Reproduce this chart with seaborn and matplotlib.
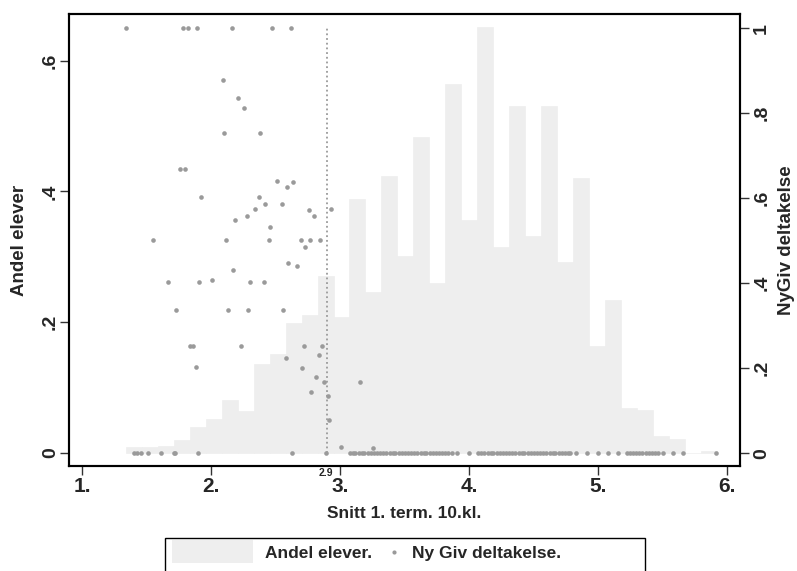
import numpy as np
import pandas as pd
import matplotlib
matplotlib.use("Agg")
import matplotlib.pyplot as plt
import seaborn as sns
from matplotlib.lines import Line2D
from matplotlib.patches import Rectangle, Patch
from matplotlib.legend_handler import HandlerLine2D, HandlerPatch

# ---------------- data ----------------
# histogram (density of students by average grade), 37 equal bins
hist_min = 1.341
hist_max = 5.92
hist_heights = [0.0087, 0.0096, 0.0112, 0.0198, 0.0397, 0.0524, 0.0804, 0.0646,
                0.1363, 0.1511, 0.1985, 0.2117, 0.2702, 0.2081, 0.388, 0.2458,
                0.4234, 0.3008, 0.484, 0.260, 0.565, 0.357, 0.652, 0.3145,
                0.530, 0.3324, 0.5313, 0.292, 0.4203, 0.1644, 0.2346, 0.0692,
                0.0656, 0.0260, 0.0209, 0.0, 0.0035]

# Ny GIV participation share by grade average
top_x = [1.341, 1.781, 1.822, 1.891, 2.160, 2.471, 2.620]          # share = 1
mid_x = [2.090, 2.209, 2.258, 2.101, 2.380, 1.760, 1.801, 2.509, 2.638, 2.589,
         1.920, 2.370, 2.419, 2.550, 2.341, 2.757, 2.928, 2.281, 2.798, 2.189,
         2.460, 1.550, 2.119, 2.450, 2.698, 2.767, 2.847, 2.731, 2.599, 2.669,
         2.171, 2.010, 1.669, 1.909, 2.300, 2.411, 1.731, 2.129, 2.289, 2.558,
         1.837, 1.858, 2.232, 2.718, 2.858, 2.837, 2.579, 1.881, 2.708, 2.816,
         2.878, 3.155, 2.778, 2.907, 2.915, 3.010, 3.258]
mid_y = [0.878, 0.837, 0.8125, 0.753, 0.753, 0.670, 0.670, 0.641, 0.639, 0.627,
         0.602, 0.603, 0.587, 0.587, 0.574, 0.572, 0.574, 0.558, 0.558, 0.548,
         0.532, 0.503, 0.503, 0.503, 0.503, 0.503, 0.503, 0.485, 0.447, 0.441,
         0.431, 0.407, 0.402, 0.402, 0.402, 0.402, 0.336, 0.336, 0.336, 0.336,
         0.252, 0.252, 0.252, 0.252, 0.252, 0.231, 0.224, 0.202, 0.201, 0.180,
         0.168, 0.168, 0.144, 0.135, 0.078, 0.014, 0.012]
zero_x = [1.403, 1.429, 1.455, 1.512, 1.610, 1.713, 1.724, 1.899, 2.628, 2.891,
          3.078, 3.10, 3.12, 3.145, 3.17, 3.19, 3.215, 3.24, 3.265, 3.29, 3.31,
          3.335, 3.36, 3.385, 3.41, 3.43, 3.455, 3.48, 3.505, 3.53, 3.55, 3.575,
          3.60, 3.625, 3.65, 3.67, 3.695, 3.72, 3.745, 3.77, 3.79, 3.815, 3.84,
          3.866, 3.905, 4.002, 4.072, 4.095, 4.12, 4.145, 4.17, 4.19, 4.215, 4.24,
          4.265, 4.29, 4.31, 4.335, 4.36, 4.385, 4.41, 4.43, 4.455, 4.48, 4.505,
          4.53, 4.55, 4.575, 4.60, 4.625, 4.65, 4.67, 4.695, 4.72, 4.745, 4.77,
          4.783, 4.829, 4.912, 5.002, 5.080, 5.157, 5.222, 5.245, 5.27, 5.295,
          5.32, 5.345, 5.37, 5.395, 5.42, 5.445, 5.467, 5.506, 5.584, 5.661, 5.912]

cutoff = 2.9
x_ticks = [1, 2, 3, 4, 5, 6]
x_ticklabels = ["1.", "2.", "3.", "4.", "5.", "6."]
left_ticks = [0, 0.2, 0.4, 0.6]
left_ticklabels = ["0", ".2", ".4", ".6"]
right_ticks = [0, 0.2, 0.4, 0.6, 0.8, 1.0]
right_ticklabels = ["0", ".2", ".4", ".6", ".8", "1"]
xlabel = "Snitt 1. term. 10.kl."
ylabel_left = "Andel elever"
ylabel_right = "NyGiv deltakelse"
legend_labels = ["Andel elever.", "Ny Giv deltakelse."]

# ---------------- style ----------------
sns.set_theme(style="white")
plt.rcParams["font.family"] = ["Liberation Sans", "DejaVu Sans"]
BAR = "#eeeeee"
DOT = "#9a9a9a"
FW = "bold"

edges = [float(e) for e in np.linspace(hist_min, hist_max, len(hist_heights) + 1)]
centers = [(edges[i] + edges[i + 1]) / 2 for i in range(len(hist_heights))]
hist_df = pd.DataFrame({"x": centers, "w": hist_heights})

pts = pd.DataFrame({
    "x": list(top_x) + list(mid_x) + list(zero_x),
    "y": [1.0] * len(top_x) + list(mid_y) + [0.0] * len(zero_x),
})

fig = plt.figure(figsize=(7.97, 5.71), dpi=100)
ax = fig.add_axes([0.0870, 0.1839, 0.8415, 0.7916])
ax2 = ax.twinx()

sns.histplot(data=hist_df, x="x", weights="w", bins=edges, ax=ax,
             color=BAR, alpha=1, edgecolor=BAR, linewidth=0.5)

ax2.vlines(cutoff, 0, 1, colors="#9a9a9a", linestyles=(0, (1, 1.6)), linewidth=1.3)
sns.scatterplot(data=pts, x="x", y="y", ax=ax2, color=DOT, s=11,
                linewidth=0, legend=False, zorder=3)

ax.set_xlim(0.902, 6.101)
ax.set_ylim(-0.0199, 0.6715)
ax2.set_ylim(-0.0299, 1.0336)

ax.set_xticks(x_ticks)
ax.set_xticklabels(x_ticklabels, fontsize=15, fontweight=FW)
ax.set_yticks(left_ticks)
ax.set_yticklabels(left_ticklabels, fontsize=14, fontweight=FW, rotation=90,
                   va="center")
ax2.set_yticks(right_ticks)
ax2.set_yticklabels(right_ticklabels, fontsize=14, fontweight=FW, rotation=90,
                    va="center")

ax.tick_params(axis="x", bottom=True, direction="out", length=6.5, width=1,
               color="#333333", pad=1.5)
ax.tick_params(axis="y", left=True, right=False, direction="out", length=6.5,
               width=1, color="#333333", pad=1)
ax2.tick_params(axis="y", right=True, left=False, direction="out", length=6.5,
                width=1, color="#333333", pad=3)

for a in (ax, ax2):
    for s in a.spines.values():
        s.set_color("black")
        s.set_linewidth(1.5)
    a.grid(False)

ax.set_xlabel(xlabel, fontsize=12.5, fontweight=FW)
ax.set_ylabel(ylabel_left, fontsize=13.5, fontweight=FW)
ax2.set_ylabel(ylabel_right, fontsize=13.5, fontweight=FW)
ax.xaxis.set_label_coords(0.5, -0.088)
ax.yaxis.set_label_coords(-0.062, 0.5)
ax2.yaxis.set_label_coords(1.056, 0.5)

ax.text(cutoff - 0.01, -0.004, "2.9", transform=ax.get_xaxis_transform(),
        ha="center", va="top", fontsize=7.5, fontweight=FW)

# ---------------- legend ----------------
def wide_patch(legend, orig_handle, xdescent, ydescent, width, height, fontsize):
    extra = 48.0
    dh = 3.6
    return Rectangle((-xdescent - extra, -ydescent - dh), width + extra,
                     height + 2 * dh)


class RightMarker(HandlerLine2D):
    def get_xdata(self, legend, xdescent, ydescent, width, height, fontsize):
        x = -xdescent + width - 4.0
        return np.array([x, x]), np.array([x])


patch_h = Patch(facecolor=BAR, edgecolor="none")
dot_h = Line2D([], [], marker="o", linestyle="none", color=DOT, markersize=3,
               markeredgewidth=0)
fig.legend([patch_h, dot_h], legend_labels, ncol=2, loc="center left",
           bbox_to_anchor=(239 / 797, 1 - 553 / 571), frameon=False,
           borderpad=0, borderaxespad=0, handlelength=0.8, handletextpad=0.7,
           columnspacing=0.8,
           handler_map={patch_h: HandlerPatch(patch_func=wide_patch),
                        dot_h: RightMarker()},
           prop={"weight": FW, "size": 12.5})
fig.add_artist(Rectangle((165 / 797, -0.02), 480 / 797, (571 - 538) / 571 + 0.02,
                         transform=fig.transFigure, fill=False,
                         edgecolor="black", linewidth=1))

fig.savefig("out.png", dpi=100)
